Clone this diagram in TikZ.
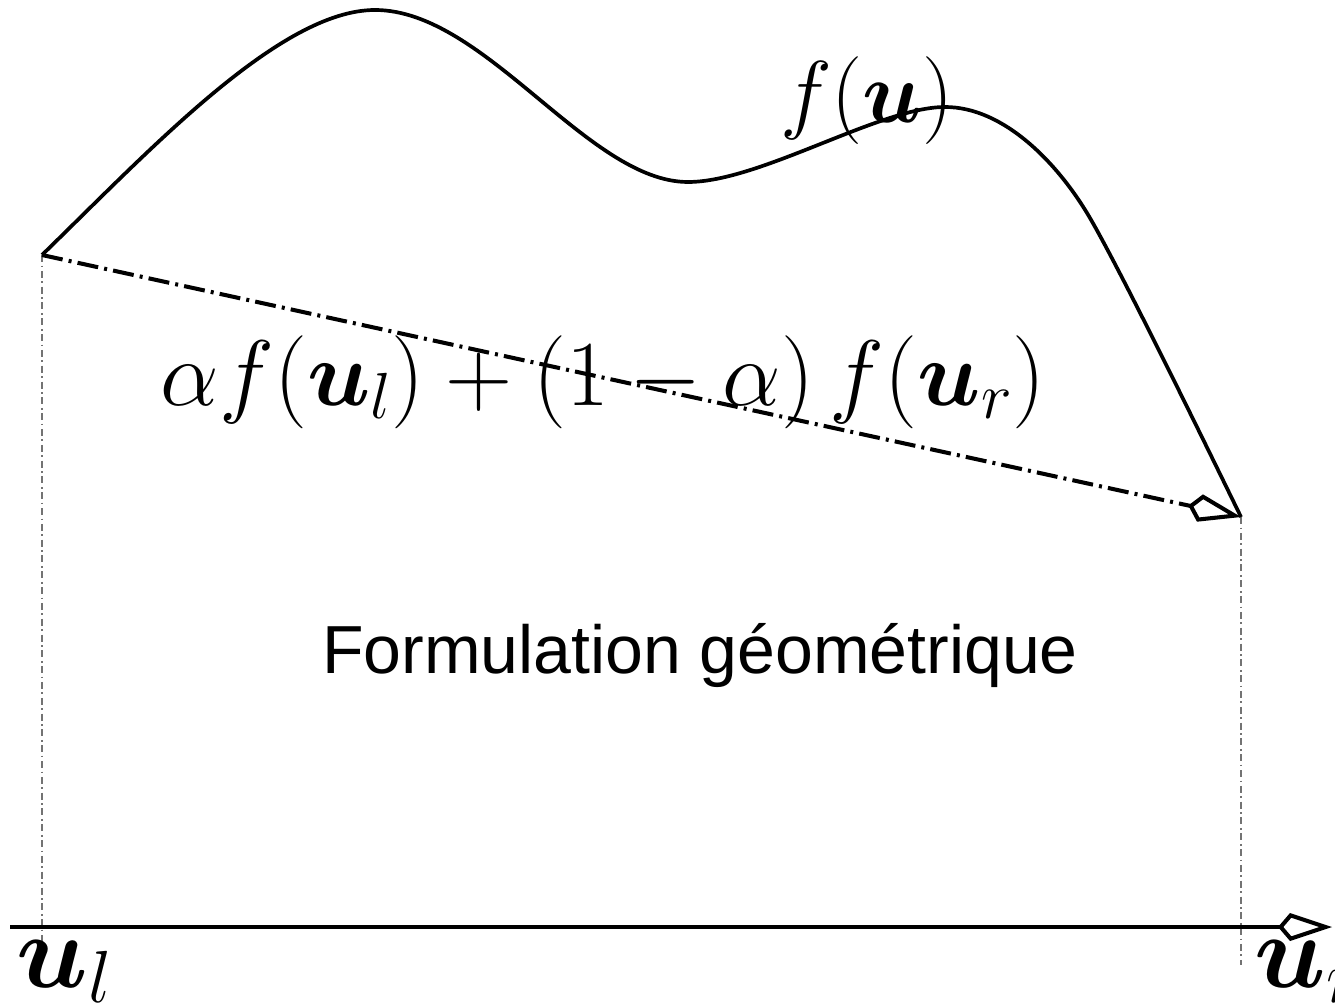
\RequirePackage{fix-cm}
\documentclass[tikz,border=0pt]{standalone}
\usepackage{amsmath,bm}
\usepackage[no-math]{fontspec}
\newfontfamily\sansA{Liberation Sans}
\usetikzlibrary{arrows.meta}
\tikzset{
  curveline/.style={line width=2.1pt, line join=round},
  chord/.style={line width=2.3pt, dash pattern=on 12pt off 3.5pt on 1.7pt off 3.5pt,
    -{Kite[open, length=1.08cm, width=0.56cm, inset=0.24cm]}},
  axisline/.style={line width=2.3pt,
    -{Kite[open, length=1.08cm, width=0.56cm, inset=0.24cm]}},
  guide/.style={line width=0.6pt, black!55, dash pattern=on 4pt off 2pt on 1pt off 2pt},
  fml/.style={inner sep=0pt, font=\fontsize{53}{60}\selectfont},
  fmlsmall/.style={inner sep=0pt, font=\fontsize{50}{56}\selectfont},
  lbl/.style={inner sep=0pt, font=\fontsize{60}{66}\selectfont},
  sanslbl/.style={inner sep=0pt, font=\sansA\fontsize{38.7}{44}\selectfont}
}
\begin{document}
\begin{tikzpicture}[x=0.02cm, y=-0.02cm]
\useasboundingbox (0,0) rectangle (1335,1003);
% key points
\coordinate (L) at (42,255);
\coordinate (R) at (1241,517);
\coordinate (Lb) at (42,965);
\coordinate (Rb) at (1241,965);
\coordinate (A0) at (10,927);
\coordinate (A1) at (1332,927);
\coordinate (Pk) at (375,10);
\coordinate (Tr) at (688,182);
\coordinate (Mx) at (945,107);
\coordinate (Md) at (1087,213);
% guides
\draw[guide] (L) -- (Lb);
\draw[guide] (R) -- (Rb);
% function curve
\draw[curveline] (L) .. controls (150,150) and (280,10) .. (Pk)
  .. controls (485,10) and (588,182) .. (Tr)
  .. controls (760,182) and (880,107) .. (Mx)
  .. controls (1005,107) and (1058,165) .. (Md)
  .. controls (1118,264) and (1219,472) .. (R);
% chord
\draw[chord] (L) -- (R);
% axis
\draw[axisline] (A0) -- (A1);
% labels
\node[fmlsmall, anchor=base] (fu) at (867,123) {$f(\bm{u})$};
\node[fml, anchor=base] (comb) at (603,405) {$\alpha f(\bm{u}_l)+(1-\alpha)\,f(\bm{u}_r)$};
\node[lbl, anchor=base west] (ul) at (16,987) {$\bm{u}_l$};
\node[lbl, anchor=base west] (ur) at (1254,987) {$\bm{u}_r$};
\node[sanslbl, anchor=base] (geo) at (700,673) {Formulation géométrique};
\end{tikzpicture}
\end{document}
